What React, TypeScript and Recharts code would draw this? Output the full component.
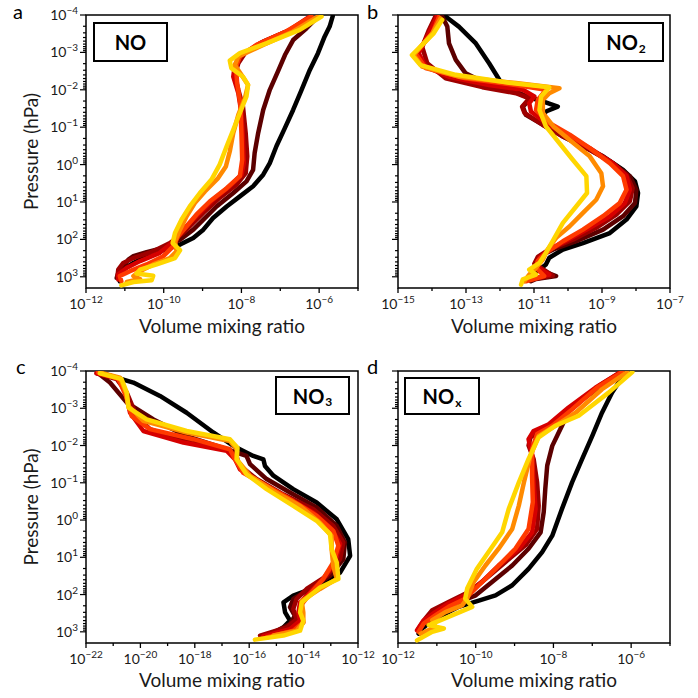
import React from 'react';
import { ScatterChart, Scatter, XAxis, YAxis, ReferenceArea, Label } from 'recharts';

// Colours of the seven profiles (dark -> light)
const COLORS = ['#000000', '#5c0000', '#9e0000', '#d60000', '#ff3a00', '#ff8a00', '#ffd600'];

// Each profile: [log10 volume mixing ratio, log10 pressure (hPa)]
// ---------- Panel a: NO ----------
const noBlack = [[-5.65,-3.97],[-5.73,-3.69],[-5.86,-3.42],[-6.03,-2.98],[-6.24,-2.53],[-6.46,-1.98],[-6.67,-1.46],[-6.88,-0.98],[-7.10,-0.49],[-7.27,-0.04],[-7.44,0.27],[-7.70,0.58],[-8.04,0.85],[-8.38,1.12],[-8.73,1.43],[-8.98,1.74],[-9.24,1.96],[-9.58,2.14],[-10.01,2.29],[-10.44,2.45],[-10.78,2.63],[-11.04,2.81],[-11.17,2.98],[-11.13,3.12]];
const noMaroon = [[-6.02,-3.97],[-6.33,-3.64],[-6.67,-3.33],[-6.88,-2.93],[-7.06,-2.49],[-7.27,-2.0],[-7.44,-1.46],[-7.57,-0.84],[-7.66,-0.31],[-7.70,0.14],[-7.87,0.45],[-8.21,0.76],[-8.64,1.12],[-8.98,1.47],[-9.24,1.74],[-9.58,2.01],[-10.01,2.23],[-10.44,2.34],[-10.78,2.45],[-10.91,2.54],[-11.04,2.76],[-11.17,2.90],[-11.21,3.03]];
const noDarkRed = [[-6.20,-3.96],[-6.67,-3.64],[-7.44,-3.29],[-7.91,-2.98],[-8.08,-2.71],[-8.17,-2.40],[-8.08,-2.0],[-7.96,-1.55],[-7.89,-0.84],[-7.85,-0.22],[-7.89,0.23],[-8.13,0.54],[-8.56,0.89],[-8.98,1.29],[-9.24,1.56],[-9.50,1.83],[-9.84,2.10],[-10.27,2.32],[-10.78,2.50],[-11.04,2.63],[-11.17,2.81],[-11.19,2.98]];
const noRed = [[-6.24,-3.96],[-6.76,-3.60],[-7.53,-3.24],[-8.00,-2.93],[-8.17,-2.66],[-8.21,-2.35],[-8.08,-1.91],[-8.00,-1.38],[-7.96,-0.66],[-7.94,-0.04],[-8.00,0.27],[-8.30,0.58],[-8.73,0.94],[-9.07,1.29],[-9.33,1.56],[-9.58,1.83],[-9.80,2.10],[-10.10,2.36],[-10.61,2.58],[-10.95,2.76],[-11.17,2.94],[-11.17,3.07]];
const noRedOrange = [[-6.20,-3.96],[-6.85,-3.56],[-7.61,-3.20],[-8.04,-2.89],[-8.14,-2.62],[-8.11,-2.18],[-8.03,-1.64],[-8.00,-0.84],[-7.98,-0.13],[-8.04,0.31],[-8.38,0.63],[-8.81,0.98],[-9.16,1.34],[-9.41,1.65],[-9.63,1.92],[-9.75,2.18],[-10.01,2.45],[-10.44,2.67],[-10.87,2.85],[-11.13,2.98],[-11.09,3.12]];
const noOrange = [[-6.03,-3.96],[-6.67,-3.56],[-7.44,-3.20],[-8.08,-2.89],[-8.17,-2.66],[-8.0,-2.40],[-7.83,-2.13],[-7.91,-1.78],[-8.08,-1.33],[-8.21,-0.84],[-8.30,-0.35],[-8.40,0.05],[-8.60,0.36],[-8.94,0.72],[-9.20,1.03],[-9.41,1.38],[-9.58,1.74],[-9.71,2.05],[-9.67,2.32],[-9.84,2.50],[-10.27,2.67],[-10.61,2.85],[-10.78,2.98],[-10.61,3.06],[-10.95,3.14]];
const noYellow = [[-5.94,-3.96],[-6.50,-3.60],[-7.36,-3.24],[-8.04,-2.98],[-8.30,-2.78],[-8.26,-2.58],[-7.96,-2.35],[-7.83,-2.13],[-7.87,-1.82],[-8.04,-1.38],[-8.21,-0.93],[-8.38,-0.49],[-8.56,0.0],[-8.77,0.40],[-9.07,0.76],[-9.33,1.12],[-9.54,1.47],[-9.71,1.83],[-9.77,2.10],[-9.58,2.29],[-9.71,2.50],[-10.18,2.67],[-10.61,2.81],[-10.70,2.91],[-10.27,2.97],[-10.31,3.09],[-10.78,3.14],[-11.09,3.23]];

// ---------- Panel b: NO2 ----------
const no2Black = [[-13.60,-3.96],[-13.21,-3.69],[-12.71,-3.24],[-12.32,-2.71],[-12.02,-2.27],[-11.73,-2.0],[-11.24,-1.82],[-10.74,-1.69],[-10.30,-1.55],[-10.65,-1.42],[-10.74,-1.29],[-10.55,-1.02],[-10.15,-0.75],[-9.56,-0.49],[-8.97,-0.22],[-8.38,0.14],[-8.03,0.45],[-7.94,0.76],[-7.99,1.12],[-8.28,1.47],[-8.77,1.83],[-9.56,2.10],[-10.15,2.27],[-10.55,2.49],[-10.65,2.67],[-10.84,2.81],[-10.99,2.90],[-10.94,3.03]];
const no2Maroon = [[-13.70,-3.96],[-13.55,-3.69],[-13.50,-3.24],[-13.30,-2.80],[-13.01,-2.44],[-12.32,-2.13],[-11.53,-1.95],[-11.09,-1.77],[-11.33,-1.55],[-11.24,-1.33],[-10.65,-1.02],[-10.05,-0.71],[-9.36,-0.40],[-8.68,-0.04],[-8.18,0.31],[-7.99,0.67],[-8.03,1.03],[-8.38,1.38],[-8.97,1.74],[-9.76,2.05],[-10.43,2.27],[-10.84,2.45],[-10.94,2.63],[-10.74,2.85],[-10.35,2.98],[-10.94,3.06],[-11.09,3.12]];
const no2DarkRed = [[-13.90,-3.96],[-14.09,-3.60],[-14.29,-3.15],[-14.14,-2.71],[-13.60,-2.31],[-12.52,-2.07],[-11.53,-1.91],[-11.14,-1.77],[-11.35,-1.55],[-11.28,-1.38],[-10.74,-1.06],[-10.15,-0.75],[-9.46,-0.44],[-8.77,-0.09],[-8.28,0.27],[-8.10,0.63],[-8.18,0.98],[-8.58,1.34],[-9.17,1.69],[-9.86,2.01],[-10.55,2.27],[-10.89,2.47],[-10.99,2.65],[-10.65,2.85],[-10.45,2.97],[-11.04,3.07]];
const no2Red = [[-13.85,-3.96],[-14.09,-3.51],[-14.39,-2.98],[-14.19,-2.62],[-13.50,-2.35],[-12.32,-2.13],[-11.33,-2.0],[-10.99,-1.82],[-11.14,-1.64],[-11.09,-1.42],[-10.65,-1.11],[-10.05,-0.80],[-9.36,-0.44],[-8.68,-0.04],[-8.28,0.31],[-8.18,0.67],[-8.33,1.03],[-8.77,1.38],[-9.36,1.69],[-10.0,2.01],[-10.55,2.27],[-10.84,2.49],[-10.94,2.72],[-10.55,2.94],[-11.09,3.07]];
const no2RedOrange = [[-13.80,-3.94],[-13.99,-3.51],[-14.49,-2.98],[-14.19,-2.58],[-13.01,-2.31],[-11.53,-2.13],[-10.65,-2.0],[-10.89,-1.73],[-10.94,-1.46],[-10.55,-1.11],[-9.95,-0.80],[-9.36,-0.44],[-8.77,-0.04],[-8.38,0.31],[-8.28,0.67],[-8.48,1.03],[-8.97,1.38],[-9.56,1.74],[-10.15,2.05],[-10.65,2.36],[-10.89,2.58],[-10.94,2.76],[-10.70,2.98],[-11.24,3.12]];
const no2Orange = [[-13.75,-3.91],[-13.99,-3.51],[-14.54,-2.93],[-14.29,-2.62],[-13.21,-2.35],[-11.53,-2.18],[-10.25,-2.04],[-10.55,-1.91],[-10.74,-1.73],[-10.74,-1.38],[-10.43,-1.02],[-9.95,-0.66],[-9.36,-0.22],[-9.02,0.23],[-8.97,0.58],[-9.17,0.94],[-9.56,1.29],[-9.95,1.65],[-10.35,1.96],[-10.60,2.27],[-10.74,2.54],[-10.94,2.76],[-11.14,2.94],[-11.29,3.12]];
const no2Yellow = [[-13.70,-3.87],[-13.95,-3.51],[-14.59,-2.93],[-14.34,-2.66],[-13.30,-2.40],[-11.73,-2.19],[-10.55,-2.07],[-10.79,-1.82],[-10.84,-1.46],[-10.65,-1.02],[-10.25,-0.57],[-9.86,-0.13],[-9.46,0.31],[-9.44,0.76],[-9.76,1.12],[-10.15,1.56],[-10.43,2.01],[-10.65,2.36],[-10.84,2.63],[-11.14,2.81],[-10.94,2.94],[-11.33,3.07],[-11.38,3.21]];

// ---------- Panel c: NO3 ----------
const no3Black = [[-21.49,-3.96],[-20.26,-3.69],[-19.28,-3.33],[-18.30,-2.88],[-17.32,-2.35],[-16.58,-1.99],[-15.85,-1.72],[-15.48,-1.63],[-15.42,-1.45],[-15.11,-1.19],[-14.38,-0.83],[-13.52,-0.47],[-12.78,-0.02],[-12.36,0.51],[-12.29,0.96],[-12.66,1.41],[-13.40,1.76],[-14.38,2.03],[-14.74,2.21],[-14.68,2.48],[-14.50,2.70],[-14.74,2.88],[-15.11,3.06]];
const no3Maroon = [[-21.55,-3.94],[-21.12,-3.69],[-20.50,-3.15],[-19.52,-2.70],[-18.30,-2.25],[-16.83,-1.90],[-16.10,-1.72],[-15.97,-1.50],[-15.36,-1.10],[-14.50,-0.74],[-13.52,-0.34],[-12.78,0.16],[-12.48,0.60],[-12.54,1.05],[-13.03,1.50],[-13.89,1.90],[-14.38,2.12],[-14.50,2.34],[-14.32,2.57],[-14.50,2.79],[-15.11,3.02],[-15.48,3.10]];
const no3DarkRed = [[-21.61,-3.94],[-20.87,-3.78],[-20.50,-3.42],[-20.14,-2.79],[-19.65,-2.44],[-18.42,-2.12],[-16.83,-1.90],[-16.46,-1.72],[-16.40,-1.50],[-15.73,-1.10],[-14.75,-0.69],[-13.64,-0.29],[-12.91,0.16],[-12.54,0.60],[-12.66,1.05],[-13.15,1.50],[-13.89,1.85],[-14.26,2.12],[-14.38,2.39],[-14.26,2.66],[-14.62,2.88],[-15.60,3.10]];
const no3Red = [[-21.61,-3.94],[-20.87,-3.82],[-20.57,-3.51],[-20.38,-2.88],[-19.89,-2.39],[-18.42,-2.08],[-16.83,-1.86],[-16.52,-1.63],[-16.34,-1.36],[-15.60,-1.01],[-14.62,-0.60],[-13.64,-0.20],[-12.97,0.24],[-12.66,0.64],[-12.85,1.14],[-13.28,1.58],[-13.77,1.94],[-14.13,2.21],[-14.19,2.48],[-14.13,2.70],[-14.50,2.93],[-15.48,3.12]];
const no3RedOrange = [[-21.55,-3.96],[-20.81,-3.79],[-20.53,-3.33],[-20.32,-2.79],[-19.65,-2.44],[-18.05,-2.17],[-16.71,-1.90],[-16.52,-1.63],[-16.22,-1.27],[-15.36,-0.92],[-14.38,-0.51],[-13.52,-0.11],[-12.91,0.29],[-12.72,0.69],[-12.91,1.14],[-13.28,1.58],[-13.77,1.99],[-14.07,2.26],[-14.07,2.52],[-14.01,2.75],[-14.38,2.97],[-15.36,3.15]];
const no3Orange = [[-21.49,-3.96],[-20.75,-3.82],[-20.53,-3.42],[-20.44,-3.06],[-19.89,-2.66],[-18.30,-2.35],[-16.71,-2.12],[-16.46,-1.90],[-16.46,-1.63],[-15.97,-1.19],[-15.11,-0.78],[-14.13,-0.38],[-13.40,0.07],[-12.97,0.43],[-12.97,0.78],[-12.91,1.23],[-12.78,1.58],[-13.40,1.85],[-14.07,2.17],[-14.01,2.48],[-14.01,2.75],[-14.26,2.97],[-15.11,3.10]];
const no3Yellow = [[-21.49,-3.94],[-20.69,-3.78],[-20.50,-3.42],[-20.44,-3.02],[-19.77,-2.70],[-18.30,-2.39],[-16.71,-2.17],[-16.43,-1.94],[-16.46,-1.63],[-16.10,-1.23],[-15.36,-0.83],[-14.38,-0.38],[-13.52,0.02],[-13.03,0.38],[-12.97,0.78],[-12.78,1.14],[-12.72,1.58],[-13.40,1.81],[-14.07,2.21],[-14.13,2.48],[-14.01,2.70],[-14.13,2.97],[-14.74,3.10],[-15.79,3.21]];

// ---------- Panel d: NOx ----------
const noxBlack = [[-6.15,-3.97],[-6.32,-3.69],[-6.49,-3.42],[-6.75,-2.88],[-7.00,-2.26],[-7.26,-1.64],[-7.52,-1.01],[-7.78,-0.30],[-8.03,0.42],[-8.29,0.86],[-8.64,1.31],[-9.06,1.75],[-9.49,2.02],[-9.92,2.16],[-10.44,2.33],[-10.87,2.56],[-11.17,2.74],[-11.38,2.91],[-11.47,3.05]];
const noxMaroon = [[-6.23,-3.97],[-6.75,-3.60],[-7.26,-3.24],[-7.56,-3.02],[-7.78,-2.53],[-8.03,-1.99],[-8.16,-1.46],[-8.21,-0.83],[-8.25,-0.21],[-8.33,0.33],[-8.64,0.77],[-9.06,1.22],[-9.58,1.66],[-10.0,2.02],[-10.52,2.24],[-10.95,2.38],[-11.17,2.56],[-11.34,2.78],[-11.47,2.96]];
const noxDarkRed = [[-6.27,-3.97],[-6.83,-3.60],[-7.35,-3.15],[-7.86,-2.71],[-8.29,-2.39],[-8.59,-2.22],[-8.64,-2.0],[-8.51,-1.64],[-8.42,-1.01],[-8.38,-0.39],[-8.42,0.24],[-8.72,0.68],[-9.24,1.13],[-9.75,1.58],[-10.18,1.93],[-10.70,2.20],[-11.12,2.42],[-11.30,2.65],[-11.47,2.91]];
const noxRed = [[-6.27,-3.97],[-6.92,-3.55],[-7.61,-3.02],[-8.12,-2.57],[-8.51,-2.39],[-8.64,-2.17],[-8.55,-1.73],[-8.51,-1.01],[-8.46,-0.30],[-8.55,0.33],[-8.89,0.77],[-9.41,1.22],[-9.84,1.66],[-10.27,2.02],[-10.70,2.24],[-11.04,2.47],[-11.34,2.69],[-11.51,2.96]];
const noxRedOrange = [[-6.23,-3.97],[-6.88,-3.55],[-7.52,-2.97],[-8.03,-2.53],[-8.42,-2.31],[-8.55,-1.90],[-8.55,-1.19],[-8.53,-0.48],[-8.64,0.24],[-8.98,0.77],[-9.49,1.31],[-9.92,1.75],[-10.27,2.11],[-10.70,2.33],[-11.04,2.56],[-11.34,2.78],[-11.47,3.0]];
const noxOrange = [[-6.10,-3.97],[-6.75,-3.51],[-7.43,-2.88],[-7.95,-2.53],[-8.38,-2.26],[-8.59,-1.73],[-8.76,-1.01],[-8.89,-0.39],[-9.06,0.24],[-9.41,0.77],[-9.75,1.22],[-10.05,1.66],[-10.22,2.11],[-10.35,2.29],[-10.78,2.47],[-11.12,2.69],[-11.04,2.87],[-11.42,3.05]];
const noxYellow = [[-5.97,-3.97],[-6.58,-3.42],[-7.35,-2.80],[-7.95,-2.53],[-8.38,-2.22],[-8.64,-1.64],[-8.89,-1.01],[-9.15,-0.30],[-9.32,0.33],[-9.67,0.86],[-9.97,1.31],[-10.22,1.84],[-10.27,2.11],[-10.09,2.33],[-10.61,2.56],[-11.21,2.82],[-10.82,2.91],[-11.12,3.0],[-11.51,3.23]];

const NO_PROFILES = [noBlack, noMaroon, noDarkRed, noRed, noRedOrange, noOrange, noYellow];
const NO2_PROFILES = [no2Black, no2Maroon, no2DarkRed, no2Red, no2RedOrange, no2Orange, no2Yellow];
const NO3_PROFILES = [no3Black, no3Maroon, no3DarkRed, no3Red, no3RedOrange, no3Orange, no3Yellow];
const NOX_PROFILES = [noxBlack, noxMaroon, noxDarkRed, noxRed, noxRedOrange, noxOrange, noxYellow];

// Axis tick exponents
const X_TICKS_A = [-12, -11, -10, -9, -8, -7, -6, -5];
const X_LABELS_A = [-12, -10, -8, -6];
const X_TICKS_B = [-15, -14, -13, -12, -11, -10, -9, -8, -7];
const X_LABELS_B = [-15, -13, -11, -9, -7];
const X_TICKS_C = [-22, -21, -20, -19, -18, -17, -16, -15, -14, -13, -12];
const X_LABELS_C = [-22, -20, -18, -16, -14, -12];
const P_MAJOR = [-4, -3, -2, -1, 0, 1, 2, 3];
const P_DOMAIN = [-4, 3.3];

const FONT = 'Lato, "Noto Sans", sans-serif';
const TEXT_COLOR = '#1a1a1a';

const Y_TICKS: number[] = (() => {
  const t: number[] = [];
  for (const n of P_MAJOR) {
    t.push(n);
    for (let k = 2; k <= 9; k++) {
      const v = n + Math.log10(k);
      if (v <= P_DOMAIN[1]) t.push(v);
    }
  }
  return t;
})();

const fmtExp = (v: number) => (v < 0 ? '\u2212' + Math.abs(v) : String(v));

const XTick = (props: any) => {
  const { x, y, payload, labels } = props;
  const v = payload.value;
  const labeled = labels.includes(v);
  return (
    <g>
      <line x1={x} x2={x} y1={y} y2={y + (labeled ? 5 : 3)} stroke="#000" strokeWidth={1.3} />
      {labeled && (
        <text x={x} y={y + 21} textAnchor="middle" fontSize={14} fill={TEXT_COLOR} fontFamily={FONT}>
          10<tspan dy={-6} fontSize={10}>{fmtExp(v)}</tspan>
        </text>
      )}
    </g>
  );
};

const YTick = (props: any) => {
  const { x, y, payload, showLabels } = props;
  const v = payload.value;
  const major = Math.abs(v - Math.round(v)) < 1e-6;
  return (
    <g>
      <line x1={x} x2={x - (major ? 6 : 3)} y1={y} y2={y} stroke="#000" strokeWidth={1.2} />
      {major && showLabels && (
        <text x={x - 8} y={y + 5} textAnchor="end" fontSize={14} fill={TEXT_COLOR} fontFamily={FONT}>
          10<tspan dy={-6} fontSize={10}>{fmtExp(Math.round(v))}</tspan>
        </text>
      )}
    </g>
  );
};

const EmptyShape = () => <g />;

type PanelProps = {
  left: number;
  top: number;
  marginTop: number;
  plotHeight: number;
  xDomain: number[];
  xTicks: number[];
  xLabels: number[];
  showY: boolean;
  labelOffset: number;
  profiles: number[][][];
};

function Panel({ left, top, marginTop, plotHeight, xDomain, xTicks, xLabels, showY, labelOffset, profiles }: PanelProps) {
  const H = 349;
  const xAxisH = H - marginTop - plotHeight;
  return (
    <div style={{ position: 'absolute', left, top }}>
      <ScatterChart width={380} height={H} margin={{ top: marginTop, right: 22, bottom: 0, left: 0 }}>
        <XAxis
          type="number"
          dataKey="x"
          domain={xDomain}
          ticks={xTicks}
          interval={0}
          allowDataOverflow
          tickSize={0}
          tickMargin={0}
          axisLine={false}
          tickLine={false}
          height={xAxisH}
          tick={(p: any) => <XTick {...p} labels={xLabels} />}
        >
          <Label value="Volume mixing ratio" position="insideBottom" offset={labelOffset}
            style={{ fontSize: 19, fill: TEXT_COLOR, fontFamily: FONT }} />
        </XAxis>
        <YAxis
          type="number"
          dataKey="y"
          domain={P_DOMAIN}
          reversed
          ticks={Y_TICKS}
          interval={0}
          allowDataOverflow
          tickSize={0}
          tickMargin={0}
          axisLine={false}
          tickLine={false}
          width={86}
          tick={(p: any) => <YTick {...p} showLabels={showY} />}
        >
          {showY && (
            <Label value="Pressure (hPa)" angle={-90} position="insideLeft" offset={31}
              style={{ fontSize: 19, fill: TEXT_COLOR, fontFamily: FONT, textAnchor: 'middle' }} />
          )}
        </YAxis>
        {profiles.map((pts, i) => (
          <Scatter
            key={i}
            data={pts.map(([x, y]) => ({ x, y }))}
            fill="none"
            shape={EmptyShape}
            line={{ stroke: COLORS[i], strokeWidth: 4.5, strokeLinejoin: 'round', strokeLinecap: 'round' }}
            isAnimationActive={false}
          />
        ))}
        <ReferenceArea x1={xDomain[0]} x2={xDomain[1]} y1={P_DOMAIN[0]} y2={P_DOMAIN[1]}
          fill="none" fillOpacity={0} stroke="#000" strokeWidth={1.5} ifOverflow="visible" />
      </ScatterChart>
    </div>
  );
}

const boxStyle = (left: number, top: number, w: number, h: number): React.CSSProperties => ({
  position: 'absolute', left, top, width: w, height: h, boxSizing: 'border-box',
  border: '2px solid #000', background: '#fff', display: 'flex', alignItems: 'center',
  justifyContent: 'center', fontFamily: FONT, fontSize: 20, fontWeight: 700, color: '#000',
});
const subStyle: React.CSSProperties = { fontSize: 12, position: 'relative', top: 6, marginLeft: 1 };
const letterStyle = (left: number, top: number): React.CSSProperties => ({
  position: 'absolute', left, top, fontFamily: FONT, fontSize: 20, color: '#000', lineHeight: '22px',
});

export default function App() {
  return (
    <div style={{ position: 'absolute', left: 0, top: 0, width: 698, height: 698, background: '#fff', overflow: 'hidden' }}>
      <Panel left={0} top={0} marginTop={15} plotHeight={273} xDomain={[-12, -5]} xTicks={X_TICKS_A}
        xLabels={X_LABELS_A} showY labelOffset={16} profiles={NO_PROFILES} />
      <Panel left={312} top={0} marginTop={15} plotHeight={273} xDomain={[-15, -7]} xTicks={X_TICKS_B}
        xLabels={X_LABELS_B} showY={false} labelOffset={16} profiles={NO2_PROFILES} />
      <Panel left={0} top={349} marginTop={22} plotHeight={272} xDomain={[-22, -12]} xTicks={X_TICKS_C}
        xLabels={X_LABELS_C} showY labelOffset={11} profiles={NO3_PROFILES} />
      <Panel left={312} top={349} marginTop={22} plotHeight={272} xDomain={[-12, -5]} xTicks={X_TICKS_A}
        xLabels={X_LABELS_A} showY={false} labelOffset={11} profiles={NOX_PROFILES} />

      <div style={letterStyle(13, 0)}>a</div>
      <div style={letterStyle(367, 0)}>b</div>
      <div style={letterStyle(16, 355)}>c</div>
      <div style={letterStyle(367, 355)}>d</div>

      <div style={boxStyle(93, 22, 75, 40)}>NO</div>
      <div style={boxStyle(588, 22, 76, 40)}>NO<span style={subStyle}>2</span></div>
      <div style={boxStyle(275, 376, 75, 39)}>NO<span style={subStyle}>3</span></div>
      <div style={boxStyle(404, 377, 76, 38)}>NO<span style={subStyle}>x</span></div>
    </div>
  );
}
